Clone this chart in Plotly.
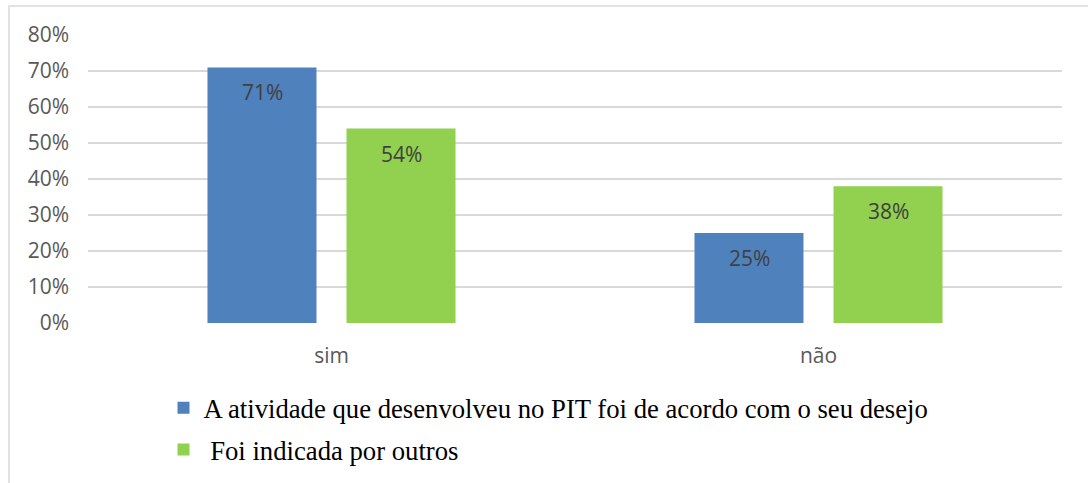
import plotly.graph_objects as go

categories = ["sim", "não"]
series_names = [
    "A atividade que desenvolveu no PIT foi de acordo com o seu desejo",
    "\u00a0Foi indicada por outros",
]
values_desejo = [0.71, 0.25]
values_indicada = [0.54, 0.38]
colors = ["#4f81bd", "#92d050"]
tick_vals = [0, 0.1, 0.2, 0.3, 0.4, 0.5, 0.6, 0.7, 0.8]
tick_text = ["0%", "10%", "20%", "30%", "40%", "50%", "60%", "70%", "80%"]

series_values = [values_desejo, values_indicada]

fig = go.Figure()
for i, (name, vals) in enumerate(zip(series_names, series_values)):
    fig.add_trace(go.Bar(
        x=categories, y=vals, name=name,
        marker=dict(color=colors[i], line=dict(width=0)),
        legendgroup=f"g{i}",
        hoverinfo="skip",
    ))

# data labels inside bars near the top
slot_px = 139
for i, vals in enumerate(series_values):
    shift = (-0.5 + i) * slot_px
    for c, v in zip(categories, vals):
        fig.add_annotation(
            x=c, y=v, text=f"{round(v*100)}%", showarrow=False,
            xshift=shift, yshift=-25, yanchor="middle",
            font=dict(family="Open Sans, sans-serif", size=21, color="#404040"),
        )

L, R, T, B = 88, 26, 35, 160
W, H = 1088, 483
pw, ph = W - L - R, H - T - B

# outer light-gray frame (left and top edges visible)
fig.add_shape(type="rect", xref="paper", yref="paper",
              x0=(9 - L) / pw, x1=(W + 20 - L) / pw,
              y0=(H - B - (H + 20)) / ph, y1=(H - B - 6) / ph,
              line=dict(color="#d9d9d9", width=1.5), fillcolor="rgba(0,0,0,0)", layer="below")

fig.update_layout(
    width=W, height=H,
    margin=dict(l=L, r=R, t=T, b=B, autoexpand=False),
    paper_bgcolor="white", plot_bgcolor="white",
    barmode="group", bargap=0.429, bargroupgap=0.216,
    showlegend=True,
    legend=dict(
        orientation="v", x=(183.5 - 20 - L) / pw, xanchor="left",
        y=(H - B - 384) / ph, yanchor="top",
        font=dict(family="Liberation Serif, Times New Roman, serif", size=26.7, color="#000000"),
        tracegroupgap=4, bgcolor="rgba(0,0,0,0)", itemwidth=30,
    ),
    xaxis=dict(
        showgrid=False, zeroline=False, showline=False, ticks="",
        tickfont=dict(family="Open Sans, sans-serif", size=21, color="#595959"),
        ticklabelstandoff=18,
        automargin=False,
    ),
    yaxis=dict(
        range=[0, 0.8], tickvals=tick_vals, ticktext=tick_text,
        showgrid=True, gridcolor="#d9d9d9", gridwidth=1.5,
        zeroline=False, showline=False, ticks="",
        tickfont=dict(family="Open Sans, sans-serif", size=21, color="#595959"),
        ticklabelstandoff=18,
        automargin=False,
    ),
)

fig.write_html(
    "out.html",
    config={"displayModeBar": False},
    post_script="document.body.style.margin='0';document.body.style.overflow='hidden';",
)
